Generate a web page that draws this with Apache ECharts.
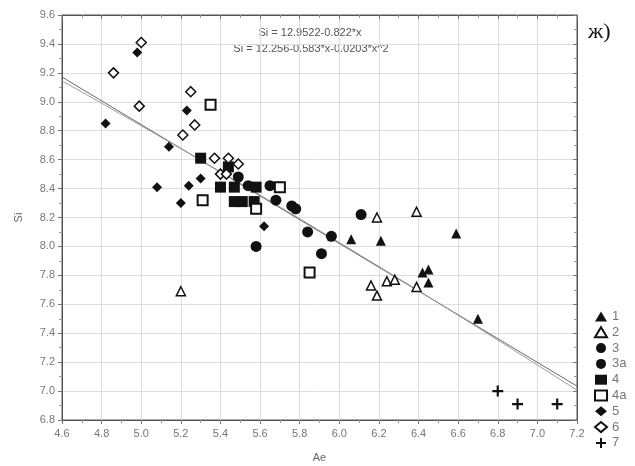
<!DOCTYPE html>
<html><head><meta charset="utf-8">
<script src="https://cdn.jsdelivr.net/npm/echarts@6/dist/echarts.min.js"></script>
<style>html,body{margin:0;padding:0;background:#fff}#c{width:635px;height:466px}</style>
</head><body><div id="c"></div>
<script>
const s1 = [[6.06,8.05],[6.21,8.04],[6.59,8.09],[6.42,7.82],[6.45,7.84],[6.45,7.75],[6.70,7.50]];
const s2 = [[5.20,7.69],[6.19,8.20],[6.39,8.24],[6.16,7.73],[6.24,7.76],[6.28,7.77],[6.19,7.66],[6.39,7.72]];
const s3 = [[5.58,8.00],[5.84,8.10],[5.91,7.95],[5.96,8.07],[6.11,8.22]];
const s3a = [[5.49,8.48],[5.54,8.42],[5.65,8.42],[5.68,8.32],[5.76,8.28],[5.78,8.26]];
const s4 = [[5.30,8.61],[5.44,8.55],[5.40,8.41],[5.47,8.41],[5.58,8.41],[5.47,8.31],[5.51,8.31],[5.57,8.31]];
const s4a = [[5.35,8.98],[5.31,8.32],[5.70,8.41],[5.58,8.26],[5.85,7.82]];
const s5 = [[4.98,9.34],[4.82,8.85],[5.23,8.94],[5.14,8.69],[5.30,8.47],[5.24,8.42],[5.08,8.41],[5.20,8.30],[5.62,8.14]];
const s6 = [[5.00,9.41],[4.86,9.20],[4.99,8.97],[5.25,9.07],[5.27,8.84],[5.21,8.77],[5.37,8.61],[5.44,8.61],[5.49,8.57],[5.40,8.50],[5.43,8.50]];
const s7 = [[6.80,7.00],[6.90,6.91],[7.10,6.91]];
const fitLinear = [[4.6,9.171],[7.2,7.034]];
const fitQuad = [[4.6,9.145],[5.0,8.834],[5.4,8.516],[5.8,8.192],[6.2,7.861],[6.6,7.524],[7.0,7.180],[7.2,7.006]];
const seriesNames = ['1','2','3','3a','4','4a','5','6','7'];
const eq1 = 'Si = 12.9522-0.822*x';
const eq2 = 'Si = 12.256-0.583*x-0.0203*x^2';
const xName = 'Ae', yName = 'Si', panel = 'ж)';

const crossPath = 'path://M4,0 L6,0 L6,4 L10,4 L10,6 L6,6 L6,10 L4,10 L4,6 L0,6 L0,4 L4,4 Z';
const black = '#111';
function sc(name, data, symbol, size, hollow, bw) {
  return {
    name, type: 'scatter', data, symbol, symbolSize: size,
    itemStyle: hollow ? {color: '#fff', borderColor: black, borderWidth: bw || 1.5, opacity: 1} : {color: black, opacity: 1},
    z: 5
  };
}
const axisFont = {fontFamily: 'Liberation Sans, Arial, sans-serif', fontSize: 11, color: '#777'};
const chart = echarts.init(document.getElementById('c'), null, {renderer: 'canvas'});
chart.setOption({
  animation: false,
  backgroundColor: '#fff',
  grid: {left: 62, right: 58, top: 15, bottom: 46, show: true, borderColor: '#555', borderWidth: 1, containLabel: false, outerBoundsMode: 'none'},
  xAxis: [{
    type: 'value', min: 4.6, max: 7.2, interval: 0.2, position: 'bottom',
    name: xName, nameLocation: 'middle', nameGap: 32,
    nameTextStyle: {fontFamily: 'Liberation Sans, Arial, sans-serif', fontSize: 11, color: '#666'},
    axisLine: {show: true, lineStyle: {color: '#555'}},
    axisTick: {show: true, inside: false, length: 4, lineStyle: {color: '#777'}},
    minorTick: {show: true, splitNumber: 2, length: 3, lineStyle: {color: '#999'}},
    axisLabel: Object.assign({margin: 8, formatter: v => v.toFixed(1)}, axisFont),
    splitLine: {show: true, lineStyle: {color: '#ddd'}}
  }, {
    type: 'value', min: 4.6, max: 7.2, interval: 0.2, position: 'top',
    axisLine: {show: true, lineStyle: {color: '#555'}},
    axisTick: {show: true, inside: true, length: 4, lineStyle: {color: '#777'}},
    minorTick: {show: true, splitNumber: 2, length: 3, lineStyle: {color: '#999'}},
    axisLabel: {show: false}, splitLine: {show: false}
  }],
  yAxis: [{
    type: 'value', min: 6.8, max: 9.6, interval: 0.2, position: 'left',
    name: yName, nameLocation: 'middle', nameGap: 38, nameRotate: 90,
    nameTextStyle: {fontFamily: 'Liberation Sans, Arial, sans-serif', fontSize: 11, color: '#666'},
    axisLine: {show: true, lineStyle: {color: '#555'}},
    axisTick: {show: true, inside: false, length: 4, lineStyle: {color: '#777'}},
    minorTick: {show: true, splitNumber: 2, length: 3, lineStyle: {color: '#999'}},
    axisLabel: Object.assign({margin: 7, formatter: v => v.toFixed(1)}, axisFont),
    splitLine: {show: true, lineStyle: {color: '#ddd'}}
  }, {
    type: 'value', min: 6.8, max: 9.6, interval: 0.2, position: 'right',
    axisLine: {show: true, lineStyle: {color: '#555'}},
    axisTick: {show: true, inside: true, length: 4, lineStyle: {color: '#777'}},
    minorTick: {show: true, splitNumber: 2, length: 3, lineStyle: {color: '#999'}},
    axisLabel: {show: false}, splitLine: {show: false}
  }],
  legend: {
    orient: 'vertical', left: 594, top: 310, height: 156, itemWidth: 12, itemHeight: 10, itemGap: 2.8, padding: 0,
    data: seriesNames,
    textStyle: {fontFamily: 'Liberation Sans, Arial, sans-serif', fontSize: 13, color: '#777'}
  },
  graphic: [
    {type: 'text', style: {text: eq1, x: 310, y: 27, textAlign: 'center', font: '11px "Liberation Sans", Arial, sans-serif', fill: '#555'}},
    {type: 'text', style: {text: eq2, x: 311, y: 43, textAlign: 'center', font: '11px "Liberation Sans", Arial, sans-serif', fill: '#555'}},
    {type: 'text', style: {text: panel, x: 588, y: 21, font: '22px "Liberation Serif", "DejaVu Serif", serif', fill: '#111'}}
  ],
  series: [
    {name: 'fitLin', type: 'line', data: fitLinear, showSymbol: false, symbol: 'none', lineStyle: {color: '#666', width: 1}, z: 3, silent: true},
    {name: 'fitQuad', type: 'line', data: fitQuad, smooth: true, showSymbol: false, symbol: 'none', lineStyle: {color: '#999', width: 1}, z: 3, silent: true},
    sc('1', s1, 'triangle', 10, false),
    sc('2', s2, 'triangle', 9, true, 1.5),
    sc('3', s3, 'circle', 11, false),
    sc('3a', s3a, 'circle', 11, false),
    sc('4', s4, 'rect', 11, false),
    sc('4a', s4a, 'rect', 10, true, 2),
    sc('5', s5, 'diamond', 10, false),
    sc('6', s6, 'diamond', 10, true, 1.5),
    sc('7', s7, crossPath, 11, false)
  ]
});
</script></body></html>
